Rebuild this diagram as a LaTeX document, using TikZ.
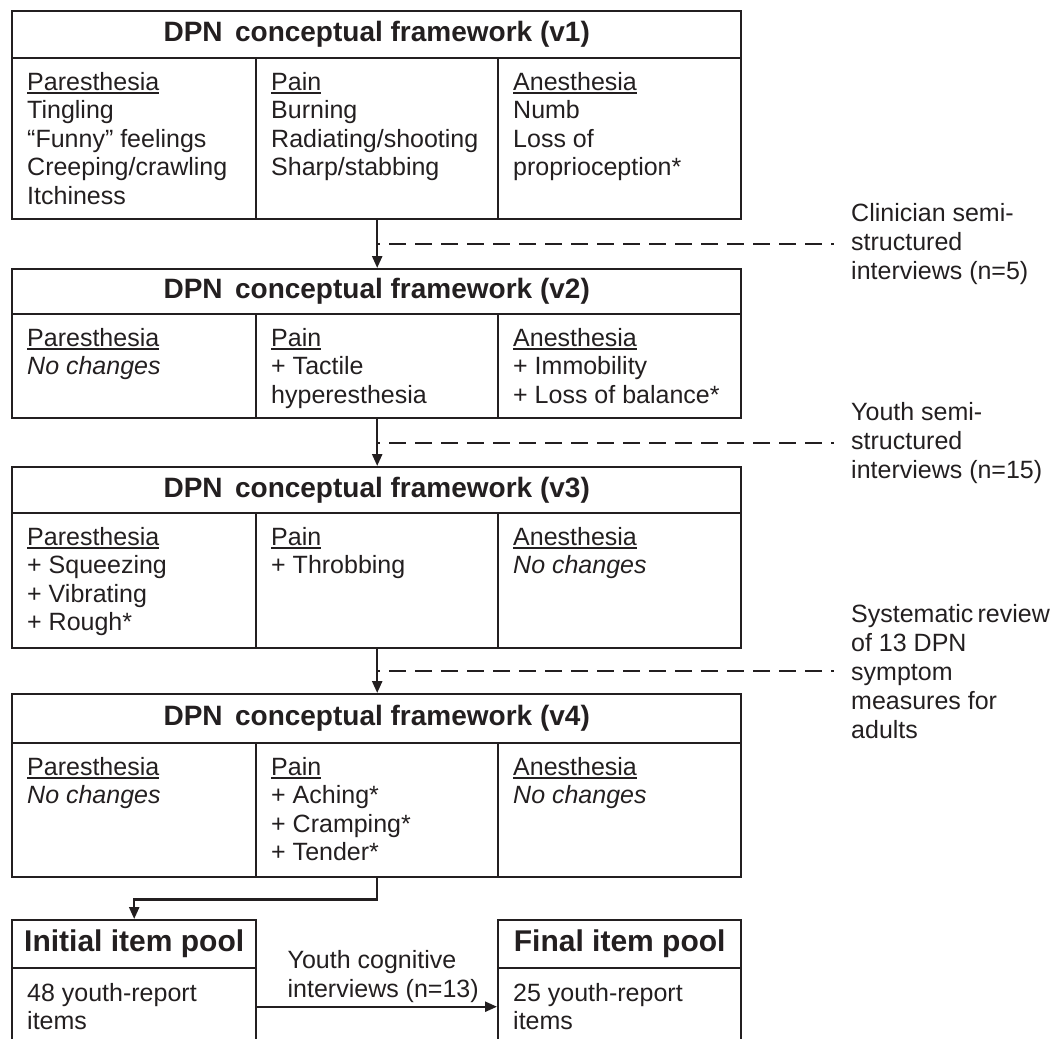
\documentclass[tikz,border=0pt]{standalone}
\usepackage{fontspec}
\setmainfont{Liberation Sans}
\usetikzlibrary{arrows.meta,positioning,calc}
\definecolor{ink}{HTML}{231F20}
\newcommand\colhead[1]{\setbox0\hbox{#1}\leavevmode\rlap{\rule[-4pt]{\wd0}{2.8pt}}\box0}

\begin{document}
\begin{tikzpicture}[
  x=1pt, y=-1pt, line width=2.4pt, color=ink,
  frame/.style={draw, anchor=north west, inner sep=0pt, minimum width=#1},
  frame/.default=729pt,
  ttl/.style={frame=#1, font=\bfseries\fontsize{28}{30}\selectfont},
  ttl/.default=729pt,
  pool/.style={frame=#1, font=\bfseries\fontsize{30}{32}\selectfont},
  body/.style={anchor=north west, align=left, inner xsep=15pt, inner ysep=14pt,
               font=\fontsize{25}{28.5}\selectfont},
  side/.style={anchor=west, align=left, inner xsep=16pt, inner ysep=0pt,
               font=\fontsize{25}{29}\selectfont},
  ann/.style={align=left, inner sep=3pt, font=\fontsize{25}{29}\selectfont},
  ar/.style={-{Triangle[length=12pt,width=10pt]}},
  dsh/.style={dash pattern=on 17pt off 9pt, dash phase=14pt},
]
\useasboundingbox (0,0) rectangle (1051,1038);

%% ---------------- framework v1 ----------------
\node[ttl, minimum height=47pt] (t1) at (11,10) {DPN \,conceptual framework (v1)};
\node[frame=244pt, minimum height=161pt] (c1a) at (11,57) {};
\node[frame=242pt, minimum height=161pt] (c1b) at (255,57) {};
\node[frame=243pt, minimum height=161pt] (c1c) at (497,57) {};
\node[body] (x1a) at (c1a.north west)
  {\colhead{Paresthesia}\\Tingling\\“Funny” feelings\\Creeping/crawling\\Itchiness};
\node[body] (x1b) at (c1b.north west)
  {\colhead{Pain}\\Burning\\Radiating/shooting\\Sharp/stabbing};
\node[body] (x1c) at (c1c.north west)
  {\colhead{Anesthesia}\\Numb\\Loss of\\proprioception*};

%% ---------------- framework v2 ----------------
\node[ttl, minimum height=45pt] (t2) at (11,268) {DPN \,conceptual framework (v2)};
\node[frame=244pt, minimum height=104pt] (c2a) at (11,313) {};
\node[frame=242pt, minimum height=104pt] (c2b) at (255,313) {};
\node[frame=243pt, minimum height=104pt] (c2c) at (497,313) {};
\node[body] (x2a) at (c2a.north west) {\colhead{Paresthesia}\\\textit{No changes}};
\node[body] (x2b) at (c2b.north west) {\colhead{Pain}\\+ Tactile\\hyperesthesia};
\node[body] (x2c) at (c2c.north west)
  {\colhead{Anesthesia}\\+ Immobility\\+ Loss of balance*};

%% ---------------- framework v3 ----------------
\node[ttl, minimum height=46pt] (t3) at (11,466) {DPN \,conceptual framework (v3)};
\node[frame=244pt, minimum height=135pt] (c3a) at (11,512) {};
\node[frame=242pt, minimum height=135pt] (c3b) at (255,512) {};
\node[frame=243pt, minimum height=135pt] (c3c) at (497,512) {};
\node[body] (x3a) at (c3a.north west)
  {\colhead{Paresthesia}\\+ Squeezing\\+ Vibrating\\+ Rough*};
\node[body] (x3b) at (c3b.north west) {\colhead{Pain}\\+ Throbbing};
\node[body] (x3c) at (c3c.north west) {\colhead{Anesthesia}\\\textit{No changes}};

%% ---------------- framework v4 ----------------
\node[ttl, minimum height=49pt] (t4) at (11,693) {DPN \,conceptual framework (v4)};
\node[frame=244pt, minimum height=134pt] (c4a) at (11,742) {};
\node[frame=242pt, minimum height=134pt] (c4b) at (255,742) {};
\node[frame=243pt, minimum height=134pt] (c4c) at (497,742) {};
\node[body] (x4a) at (c4a.north west) {\colhead{Paresthesia}\\\textit{No changes}};
\node[body] (x4b) at (c4b.north west)
  {\colhead{Pain}\\+ Aching*\\+ Cramping*\\+ Tender*};
\node[body] (x4c) at (c4c.north west) {\colhead{Anesthesia}\\\textit{No changes}};

%% version arrows and their sources
\draw[ar] (c1b.south) -- (c1b.south |- t2.north);
\draw[ar] (c2b.south) -- (c2b.south |- t3.north);
\draw[ar] (c3b.south) -- (c3b.south |- t4.north);
\coordinate (j1) at ($(c1b.south)!.5!(c1b.south |- t2.north)$);
\coordinate (j2) at ($(c2b.south)!.5!(c2b.south |- t3.north)$);
\coordinate (j3) at ($(c3b.south)!.5!(c3b.south |- t4.north)$);

\node[side] (s1) at (834,0 |- j1) {Clinician semi-\\structured\\interviews (n=5)};
\node[side] (s2) at (834,0 |- j2) {Youth semi-\\structured\\interviews (n=15)};
\node[side] (s3) at (834,0 |- j3)
  {Systematic\,review\\of 13 DPN\\symptom\\measures for\\adults};
\draw[dsh] (j1) -- (s1.west);
\draw[dsh] (j2) -- (s2.west);
\draw[dsh] (j3) -- (s3.west);

%% ---------------- item pools ----------------
\node[pool=244pt, minimum height=48pt] (p1t) at (11,919) {Initial item pool};
\node[frame=244pt, minimum height=77pt] (p1b) at (11,967) {};
\node[body, inner ysep=15pt] (y1) at (p1b.north west) {48 youth-report\\items};
\node[pool=243pt, minimum height=48pt] (p2t) at (497,919) {Final item pool};
\node[frame=243pt, minimum height=77pt] (p2b) at (497,967) {};
\node[body, inner ysep=15pt] (y2) at (p2b.north west) {25 youth-report\\items};

\draw[ar] (c4b.south) -- ++(0,21) -| (p1t.north);
\draw[ar] (p1b.east) -- node[ann, above, xshift=6pt] (cog) {Youth cognitive\\interviews (n=13)} (p2b.west);

\end{tikzpicture}
\end{document}
